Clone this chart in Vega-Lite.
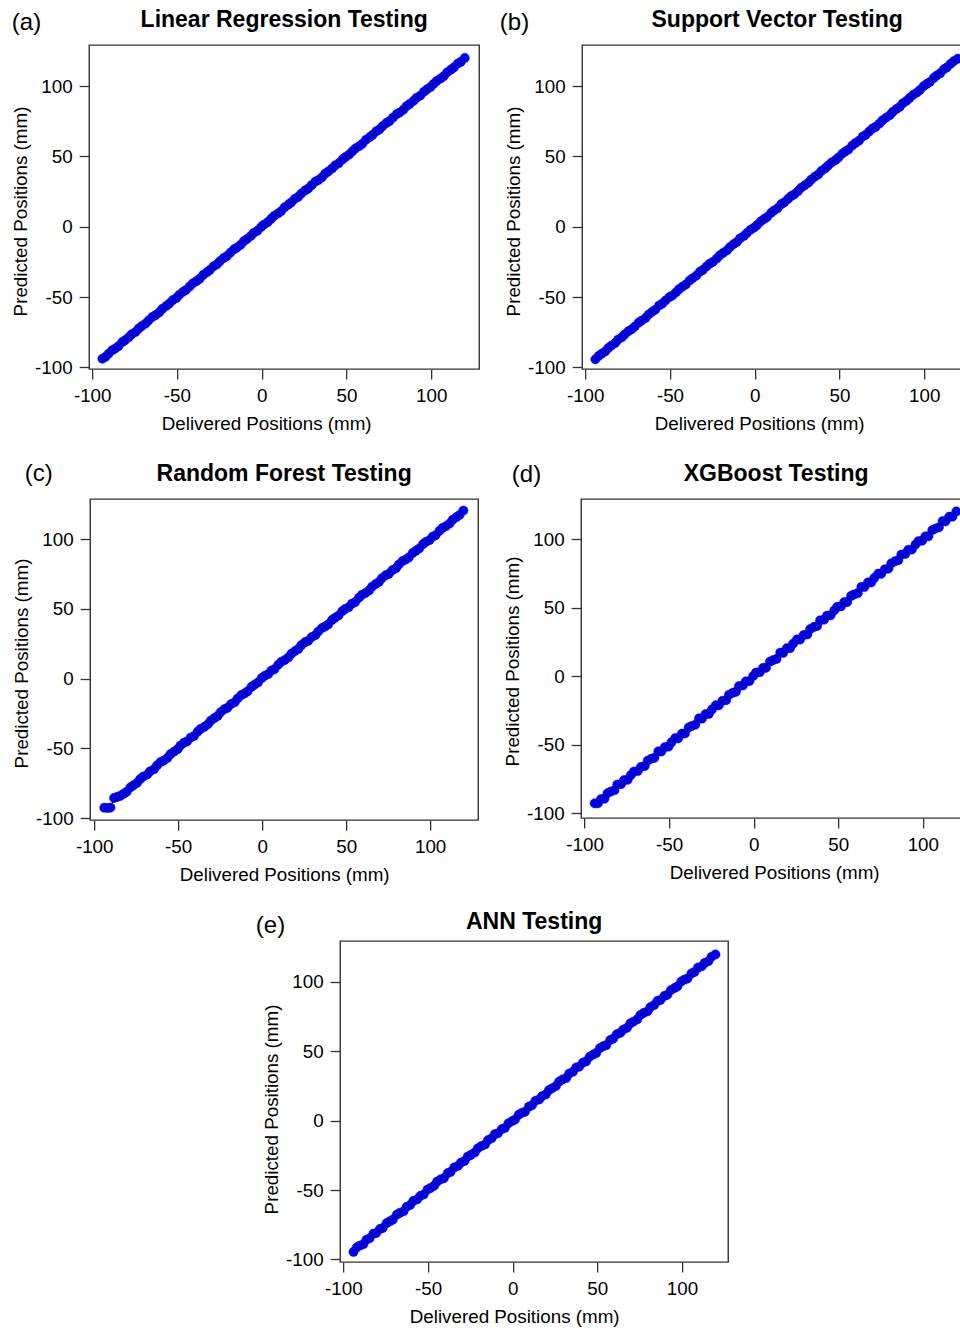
{
"$schema": "https://vega.github.io/schema/vega-lite/v6.json",
"padding": {"left": 10, "top": 8, "right": 0, "bottom": 0},
"background": "white",
"data": {"values": [
{"x":-94,"lr":-93.8,"sv":-94.2,"rf":-92.6,"xg":-92.9,"an":-94.6},
{"x":-92.1,"lr":-92.4,"sv":-91.8,"rf":-92.8,"xg":-92.9,"an":-91.4},
{"x":-90.3,"lr":-90.2,"sv":-90.3,"rf":-92.5,"xg":-89.9,"an":-90.1},
{"x":-88.2,"lr":-87.8,"sv":-88.6,"rf":-85.6,"xg":-89.5,"an":-89.1},
{"x":-86.4,"lr":-86.6,"sv":-86.2,"rf":-84.9,"xg":-85.5,"an":-85.9},
{"x":-84.5,"lr":-84.9,"sv":-84.4,"rf":-84.1,"xg":-84.3,"an":-84.8},
{"x":-82.3,"lr":-82.0,"sv":-82.6,"rf":-82.5,"xg":-83.3,"an":-81.5},
{"x":-80.6,"lr":-80.6,"sv":-80.2,"rf":-81.1,"xg":-79.2,"an":-81.0},
{"x":-78.4,"lr":-78.5,"sv":-78.5,"rf":-78.0,"xg":-78.9,"an":-78.1},
{"x":-76.7,"lr":-76.4,"sv":-76.5,"rf":-76.6,"xg":-76.0,"an":-77.4},
{"x":-74.5,"lr":-74.8,"sv":-74.2,"rf":-74.8,"xg":-75.7,"an":-73.9},
{"x":-72.6,"lr":-72.4,"sv":-72.9,"rf":-72.0,"xg":-72.3,"an":-72.6},
{"x":-70.8,"lr":-70.6,"sv":-71.0,"rf":-70.3,"xg":-69.7,"an":-71.4},
{"x":-68.5,"lr":-68.8,"sv":-68.2,"rf":-68.9,"xg":-69.3,"an":-67.8},
{"x":-66.7,"lr":-66.6,"sv":-66.7,"rf":-66.5,"xg":-66.3,"an":-66.5},
{"x":-64.4,"lr":-64.0,"sv":-64.8,"rf":-65.0,"xg":-65.7,"an":-65.3},
{"x":-62.6,"lr":-62.8,"sv":-62.4,"rf":-62.3,"xg":-61.7,"an":-62.1},
{"x":-60.5,"lr":-60.9,"sv":-60.4,"rf":-59.9,"xg":-60.3,"an":-60.8},
{"x":-58.7,"lr":-58.4,"sv":-59.0,"rf":-58.9,"xg":-59.7,"an":-57.9},
{"x":-56.4,"lr":-56.4,"sv":-56.0,"rf":-56.9,"xg":-55.0,"an":-56.8},
{"x":-54.6,"lr":-54.7,"sv":-54.7,"rf":-54.2,"xg":-55.1,"an":-54.3},
{"x":-52.5,"lr":-52.2,"sv":-52.3,"rf":-52.4,"xg":-51.8,"an":-53.2},
{"x":-50.3,"lr":-50.6,"sv":-50.0,"rf":-50.6,"xg":-51.5,"an":-49.7},
{"x":-48.6,"lr":-48.4,"sv":-48.9,"rf":-48.0,"xg":-48.3,"an":-48.6},
{"x":-46.4,"lr":-46.2,"sv":-46.6,"rf":-45.9,"xg":-45.3,"an":-47.0},
{"x":-44.7,"lr":-45.0,"sv":-44.4,"rf":-45.1,"xg":-45.5,"an":-44.0},
{"x":-42.5,"lr":-42.4,"sv":-42.5,"rf":-42.3,"xg":-42.1,"an":-42.3},
{"x":-40.6,"lr":-40.2,"sv":-41.0,"rf":-41.2,"xg":-41.9,"an":-41.5},
{"x":-38.4,"lr":-38.6,"sv":-38.2,"rf":-38.1,"xg":-37.5,"an":-37.9},
{"x":-36.7,"lr":-37.1,"sv":-36.6,"rf":-36.1,"xg":-36.5,"an":-37.0},
{"x":-34.5,"lr":-34.2,"sv":-34.8,"rf":-34.7,"xg":-35.5,"an":-33.7},
{"x":-32.3,"lr":-32.3,"sv":-31.9,"rf":-32.8,"xg":-30.9,"an":-32.7},
{"x":-30.6,"lr":-30.7,"sv":-30.7,"rf":-30.2,"xg":-31.1,"an":-30.3},
{"x":-28.4,"lr":-28.1,"sv":-28.2,"rf":-28.3,"xg":-27.7,"an":-29.1},
{"x":-26.5,"lr":-26.8,"sv":-26.2,"rf":-26.8,"xg":-27.7,"an":-25.9},
{"x":-24.7,"lr":-24.5,"sv":-25.0,"rf":-24.1,"xg":-24.4,"an":-24.7},
{"x":-22.4,"lr":-22.2,"sv":-22.6,"rf":-21.9,"xg":-21.3,"an":-23.0},
{"x":-20.6,"lr":-20.9,"sv":-20.3,"rf":-21.0,"xg":-21.4,"an":-19.9},
{"x":-18.5,"lr":-18.4,"sv":-18.5,"rf":-18.3,"xg":-18.1,"an":-18.3},
{"x":-16.3,"lr":-15.9,"sv":-16.7,"rf":-16.9,"xg":-17.6,"an":-17.2},
{"x":-14.6,"lr":-14.8,"sv":-14.4,"rf":-14.3,"xg":-13.7,"an":-14.1},
{"x":-12.4,"lr":-12.8,"sv":-12.3,"rf":-11.8,"xg":-12.2,"an":-12.7},
{"x":-10.5,"lr":-10.2,"sv":-10.8,"rf":-10.7,"xg":-11.5,"an":-9.7},
{"x":-8.7,"lr":-8.7,"sv":-8.3,"rf":-9.2,"xg":-7.3,"an":-9.1},
{"x":-6.4,"lr":-6.5,"sv":-6.5,"rf":-6.0,"xg":-6.9,"an":-6.1},
{"x":-4.6,"lr":-4.3,"sv":-4.4,"rf":-4.5,"xg":-3.9,"an":-5.3},
{"x":-2.5,"lr":-2.8,"sv":-2.2,"rf":-2.8,"xg":-3.7,"an":-1.9},
{"x":-0.3,"lr":-0.1,"sv":-0.6,"rf":0.3,"xg":0.0,"an":-0.3},
{"x":1.4,"lr":1.6,"sv":1.2,"rf":1.9,"xg":2.5,"an":0.8},
{"x":3.6,"lr":3.3,"sv":3.9,"rf":3.2,"xg":2.8,"an":4.3},
{"x":5.5,"lr":5.6,"sv":5.5,"rf":5.7,"xg":5.9,"an":5.7},
{"x":7.3,"lr":7.7,"sv":6.9,"rf":6.7,"xg":6.0,"an":6.4},
{"x":9.6,"lr":9.4,"sv":9.8,"rf":9.9,"xg":10.5,"an":10.1},
{"x":11.4,"lr":11.0,"sv":11.5,"rf":12.0,"xg":11.6,"an":11.1},
{"x":13.5,"lr":13.8,"sv":13.2,"rf":13.3,"xg":12.5,"an":14.3},
{"x":15.7,"lr":15.7,"sv":16.1,"rf":15.2,"xg":17.1,"an":15.3},
{"x":17.4,"lr":17.3,"sv":17.3,"rf":17.8,"xg":16.9,"an":17.7},
{"x":19.6,"lr":19.9,"sv":19.8,"rf":19.7,"xg":20.3,"an":18.9},
{"x":21.5,"lr":21.2,"sv":21.8,"rf":21.2,"xg":20.3,"an":22.1},
{"x":23.3,"lr":23.5,"sv":23.0,"rf":23.9,"xg":23.6,"an":23.3},
{"x":25.6,"lr":25.8,"sv":25.4,"rf":26.1,"xg":26.7,"an":25.0},
{"x":27.4,"lr":27.1,"sv":27.7,"rf":27.0,"xg":26.6,"an":28.1},
{"x":29.5,"lr":29.6,"sv":29.5,"rf":29.7,"xg":29.9,"an":29.7},
{"x":31.7,"lr":32.1,"sv":31.3,"rf":31.1,"xg":30.4,"an":30.8},
{"x":33.4,"lr":33.2,"sv":33.6,"rf":33.7,"xg":34.3,"an":33.9},
{"x":35.6,"lr":35.2,"sv":35.7,"rf":36.2,"xg":35.8,"an":35.3},
{"x":37.5,"lr":37.8,"sv":37.2,"rf":37.3,"xg":36.5,"an":38.3},
{"x":39.3,"lr":39.3,"sv":39.7,"rf":38.8,"xg":40.7,"an":38.9},
{"x":41.6,"lr":41.5,"sv":41.5,"rf":42.0,"xg":41.1,"an":41.9},
{"x":43.4,"lr":43.7,"sv":43.6,"rf":43.5,"xg":44.1,"an":42.7},
{"x":45.5,"lr":45.2,"sv":45.8,"rf":45.2,"xg":44.3,"an":46.1},
{"x":47.7,"lr":47.9,"sv":47.4,"rf":48.3,"xg":48.0,"an":47.7},
{"x":49.4,"lr":49.6,"sv":49.2,"rf":49.9,"xg":50.5,"an":48.8},
{"x":51.6,"lr":51.3,"sv":51.9,"rf":51.2,"xg":50.8,"an":52.3},
{"x":53.5,"lr":53.6,"sv":53.5,"rf":53.7,"xg":53.9,"an":53.7},
{"x":55.3,"lr":55.7,"sv":54.9,"rf":54.7,"xg":54.0,"an":54.4},
{"x":57.6,"lr":57.4,"sv":57.8,"rf":57.9,"xg":58.5,"an":58.1},
{"x":59.4,"lr":59.0,"sv":59.5,"rf":60.0,"xg":59.6,"an":59.1},
{"x":61.5,"lr":61.8,"sv":61.2,"rf":61.3,"xg":60.5,"an":62.3},
{"x":63.7,"lr":63.7,"sv":64.1,"rf":63.2,"xg":65.1,"an":63.3},
{"x":65.4,"lr":65.3,"sv":65.3,"rf":65.8,"xg":64.9,"an":65.7},
{"x":67.6,"lr":67.9,"sv":67.8,"rf":67.7,"xg":68.3,"an":66.9},
{"x":69.5,"lr":69.2,"sv":69.8,"rf":69.2,"xg":68.3,"an":70.1},
{"x":71.3,"lr":71.5,"sv":71.0,"rf":71.9,"xg":71.6,"an":71.3},
{"x":73.6,"lr":73.8,"sv":73.4,"rf":74.1,"xg":74.7,"an":73.0},
{"x":75.4,"lr":75.1,"sv":75.7,"rf":75.0,"xg":74.6,"an":76.1},
{"x":77.5,"lr":77.6,"sv":77.5,"rf":77.7,"xg":77.9,"an":77.7},
{"x":79.7,"lr":80.1,"sv":79.3,"rf":79.1,"xg":78.4,"an":78.8},
{"x":81.4,"lr":81.2,"sv":81.6,"rf":81.7,"xg":82.3,"an":81.9},
{"x":83.6,"lr":83.2,"sv":83.7,"rf":84.2,"xg":83.8,"an":83.3},
{"x":85.5,"lr":85.8,"sv":85.2,"rf":85.3,"xg":84.5,"an":86.3},
{"x":87.3,"lr":87.3,"sv":87.7,"rf":86.8,"xg":88.7,"an":86.9},
{"x":89.6,"lr":89.5,"sv":89.5,"rf":90.0,"xg":89.1,"an":89.9},
{"x":91.4,"lr":91.7,"sv":91.6,"rf":91.5,"xg":92.1,"an":90.7},
{"x":93.5,"lr":93.2,"sv":93.8,"rf":93.2,"xg":92.3,"an":94.1},
{"x":95.7,"lr":95.9,"sv":95.4,"rf":96.3,"xg":96.0,"an":95.7},
{"x":97.4,"lr":97.6,"sv":97.2,"rf":97.9,"xg":98.5,"an":96.8},
{"x":99.6,"lr":99.3,"sv":99.9,"rf":99.2,"xg":98.8,"an":100.3},
{"x":101.5,"lr":101.6,"sv":101.5,"rf":101.7,"xg":101.9,"an":101.7},
{"x":103.3,"lr":103.7,"sv":102.9,"rf":102.7,"xg":102.0,"an":102.4},
{"x":105.6,"lr":105.4,"sv":105.8,"rf":105.9,"xg":106.5,"an":106.1},
{"x":107.4,"lr":107.0,"sv":107.5,"rf":108.0,"xg":107.6,"an":107.1},
{"x":109.5,"lr":109.8,"sv":109.2,"rf":109.3,"xg":108.5,"an":110.3},
{"x":111.7,"lr":111.7,"sv":112.1,"rf":111.2,"xg":113.1,"an":111.3},
{"x":113.4,"lr":113.3,"sv":113.3,"rf":113.8,"xg":112.9,"an":113.7},
{"x":115.6,"lr":115.9,"sv":115.8,"rf":115.7,"xg":116.3,"an":114.9},
{"x":117.5,"lr":117.2,"sv":117.8,"rf":117.2,"xg":116.3,"an":118.1},
{"x":119.8,"lr":120.0,"sv":119.5,"rf":120.4,"xg":120.1,"an":119.8}
]},
"spacing": 24,
"center": true,
"vconcat": [
{"hconcat": [
 {"title": {"text": "(a)", "anchor": "start", "frame": "bounds", "fontWeight": "normal", "fontSize": 24, "offset": -26.5, "dx": 1},
  "spacing": 0,
  "vconcat": [{
   "width": 390, "height": 324,
   "title": "Linear Regression Testing",
   "layer": [
    {"mark": {"type": "circle", "size": 85, "color": "#0000FF", "opacity": 1, "stroke": "#0000CC", "strokeWidth": 0.5},
     "encoding": {
      "x": {"field": "x", "type": "quantitative", "title": "Delivered Positions (mm)", "scale": {"domain": [-101.8, 128.3], "nice": false, "zero": false}, "axis": {"values": [-100, -50, 0, 50, 100], "titleX": 177}},
      "y": {"field": "lr", "type": "quantitative", "title": "Predicted Positions (mm)", "scale": {"domain": [-101.1, 129.2], "nice": false, "zero": false}, "axis": {"values": [-100, -50, 0, 50, 100], "titleY": 166}}}},
    {"mark": {"type": "line", "color": "#000000", "strokeWidth": 1},
     "encoding": {
      "x": {"field": "x", "type": "quantitative", "title": "Delivered Positions (mm)"},
      "y": {"field": "x", "type": "quantitative", "title": "Predicted Positions (mm)"}}}
   ]},
   {"width": 1, "height": 3, "data": {"values": [{"k": 1}]}, "mark": {"type": "rect", "opacity": 0}, "encoding": {}, "view": {"stroke": null}}
  ]},
 {"title": {"text": "(b)", "anchor": "start", "frame": "bounds", "fontWeight": "normal", "fontSize": 24, "offset": -26.5, "dx": -4},
  "vconcat": [{
   "width": 397, "height": 324,
   "title": {"text": "Support Vector Testing", "dx": -3.5},
   "layer": [
    {"mark": {"type": "circle", "size": 85, "color": "#0000FF", "opacity": 1, "stroke": "#0000CC", "strokeWidth": 0.5},
     "encoding": {
      "x": {"field": "x", "type": "quantitative", "title": "Delivered Positions (mm)", "scale": {"domain": [-101.8, 132.4], "nice": false, "zero": false}, "axis": {"values": [-100, -50, 0, 50, 100], "titleX": 177}},
      "y": {"field": "sv", "type": "quantitative", "title": "Predicted Positions (mm)", "scale": {"domain": [-101.1, 129.2], "nice": false, "zero": false}, "axis": {"values": [-100, -50, 0, 50, 100], "titleY": 166}}}},
    {"mark": {"type": "line", "color": "#000000", "strokeWidth": 1},
     "encoding": {
      "x": {"field": "x", "type": "quantitative", "title": "Delivered Positions (mm)"},
      "y": {"field": "x", "type": "quantitative", "title": "Predicted Positions (mm)"}}}
   ]}]}
], "spacing": 19},
{"hconcat": [
 {"title": {"text": "(c)", "anchor": "start", "frame": "bounds", "fontWeight": "normal", "fontSize": 24, "offset": -24, "dx": 13},
  "vconcat": [{
   "width": 388, "height": 321,
   "title": "Random Forest Testing",
   "layer": [
    {"mark": {"type": "circle", "size": 85, "color": "#0000FF", "opacity": 1, "stroke": "#0000CC", "strokeWidth": 0.5},
     "encoding": {
      "x": {"field": "x", "type": "quantitative", "title": "Delivered Positions (mm)", "scale": {"domain": [-102.4, 128.6], "nice": false, "zero": false}, "axis": {"values": [-100, -50, 0, 50, 100]}},
      "y": {"field": "rf", "type": "quantitative", "title": "Predicted Positions (mm)", "scale": {"domain": [-101.4, 128.7], "nice": false, "zero": false}, "axis": {"values": [-100, -50, 0, 50, 100], "titleY": 164}}}},
    {"mark": {"type": "line", "color": "#000000", "strokeWidth": 1},
     "encoding": {
      "x": {"field": "x", "type": "quantitative", "title": "Delivered Positions (mm)"},
      "y": {"field": "x", "type": "quantitative", "title": "Predicted Positions (mm)"}}}
   ]}]},
 {"title": {"text": "(d)", "anchor": "start", "frame": "bounds", "fontWeight": "normal", "fontSize": 24, "offset": -24.5, "dx": 9},
  "vconcat": [{
   "width": 397, "height": 319,
   "title": {"text": "XGBoost Testing", "dx": -3.5},
   "layer": [
    {"mark": {"type": "circle", "size": 85, "color": "#0000FF", "opacity": 1, "stroke": "#0000CC", "strokeWidth": 0.5},
     "encoding": {
      "x": {"field": "x", "type": "quantitative", "title": "Delivered Positions (mm)", "scale": {"domain": [-102, 132.7], "nice": false, "zero": false}, "axis": {"values": [-100, -50, 0, 50, 100], "titleX": 193}},
      "y": {"field": "xg", "type": "quantitative", "title": "Predicted Positions (mm)", "scale": {"domain": [-103.6, 129.2], "nice": false, "zero": false}, "axis": {"values": [-100, -50, 0, 50, 100], "titleY": 162}}}},
    {"mark": {"type": "line", "color": "#000000", "strokeWidth": 1},
     "encoding": {
      "x": {"field": "x", "type": "quantitative", "title": "Delivered Positions (mm)"},
      "y": {"field": "x", "type": "quantitative", "title": "Predicted Positions (mm)"}}}
   ]}]}
], "spacing": 23},
 {"title": {"text": "(e)", "anchor": "start", "frame": "bounds", "fontWeight": "normal", "fontSize": 24, "offset": -27.5, "dx": -6},
  "vconcat": [{
   "width": 388, "height": 321,
   "title": {"text": "ANN Testing", "offset": 7},
   "layer": [
    {"mark": {"type": "circle", "size": 85, "color": "#0000FF", "opacity": 1, "stroke": "#0000CC", "strokeWidth": 0.5},
     "encoding": {
      "x": {"field": "x", "type": "quantitative", "title": "Delivered Positions (mm)", "scale": {"domain": [-101.9, 127.3], "nice": false, "zero": false}, "axis": {"values": [-100, -50, 0, 50, 100], "titleX": 174}},
      "y": {"field": "an", "type": "quantitative", "title": "Predicted Positions (mm)", "scale": {"domain": [-101.9, 129.5], "nice": false, "zero": false}, "axis": {"values": [-100, -50, 0, 50, 100], "titleY": 168}}}},
    {"mark": {"type": "line", "color": "#000000", "strokeWidth": 1},
     "encoding": {
      "x": {"field": "x", "type": "quantitative", "title": "Delivered Positions (mm)"},
      "y": {"field": "x", "type": "quantitative", "title": "Predicted Positions (mm)"}}}
   ]}]}
],
"config": {
 "font": "Liberation Sans",
 "view": {"stroke": "#333333", "strokeWidth": 1.4},
 "axis": {"grid": false, "domain": false, "ticks": true, "tickSize": 10, "tickWidth": 1.3, "tickColor": "#333333",
  "labelFont": "Liberation Sans", "labelFontSize": 18.8, "labelColor": "#000000", "labelPadding": 7, "labelFlush": false, "labelOverlap": false,
  "labelExpr": "replace(datum.label, '−', '-')",
  "titleFont": "Liberation Sans", "titleFontSize": 18.8, "titleFontWeight": "normal", "titleColor": "#000000"},
 "axisX": {"titlePadding": 10},
 "axisY": {"titlePadding": 4},
 "title": {"font": "Liberation Sans", "fontSize": 23, "fontWeight": "bold", "color": "#000000", "offset": 13}
}
}
